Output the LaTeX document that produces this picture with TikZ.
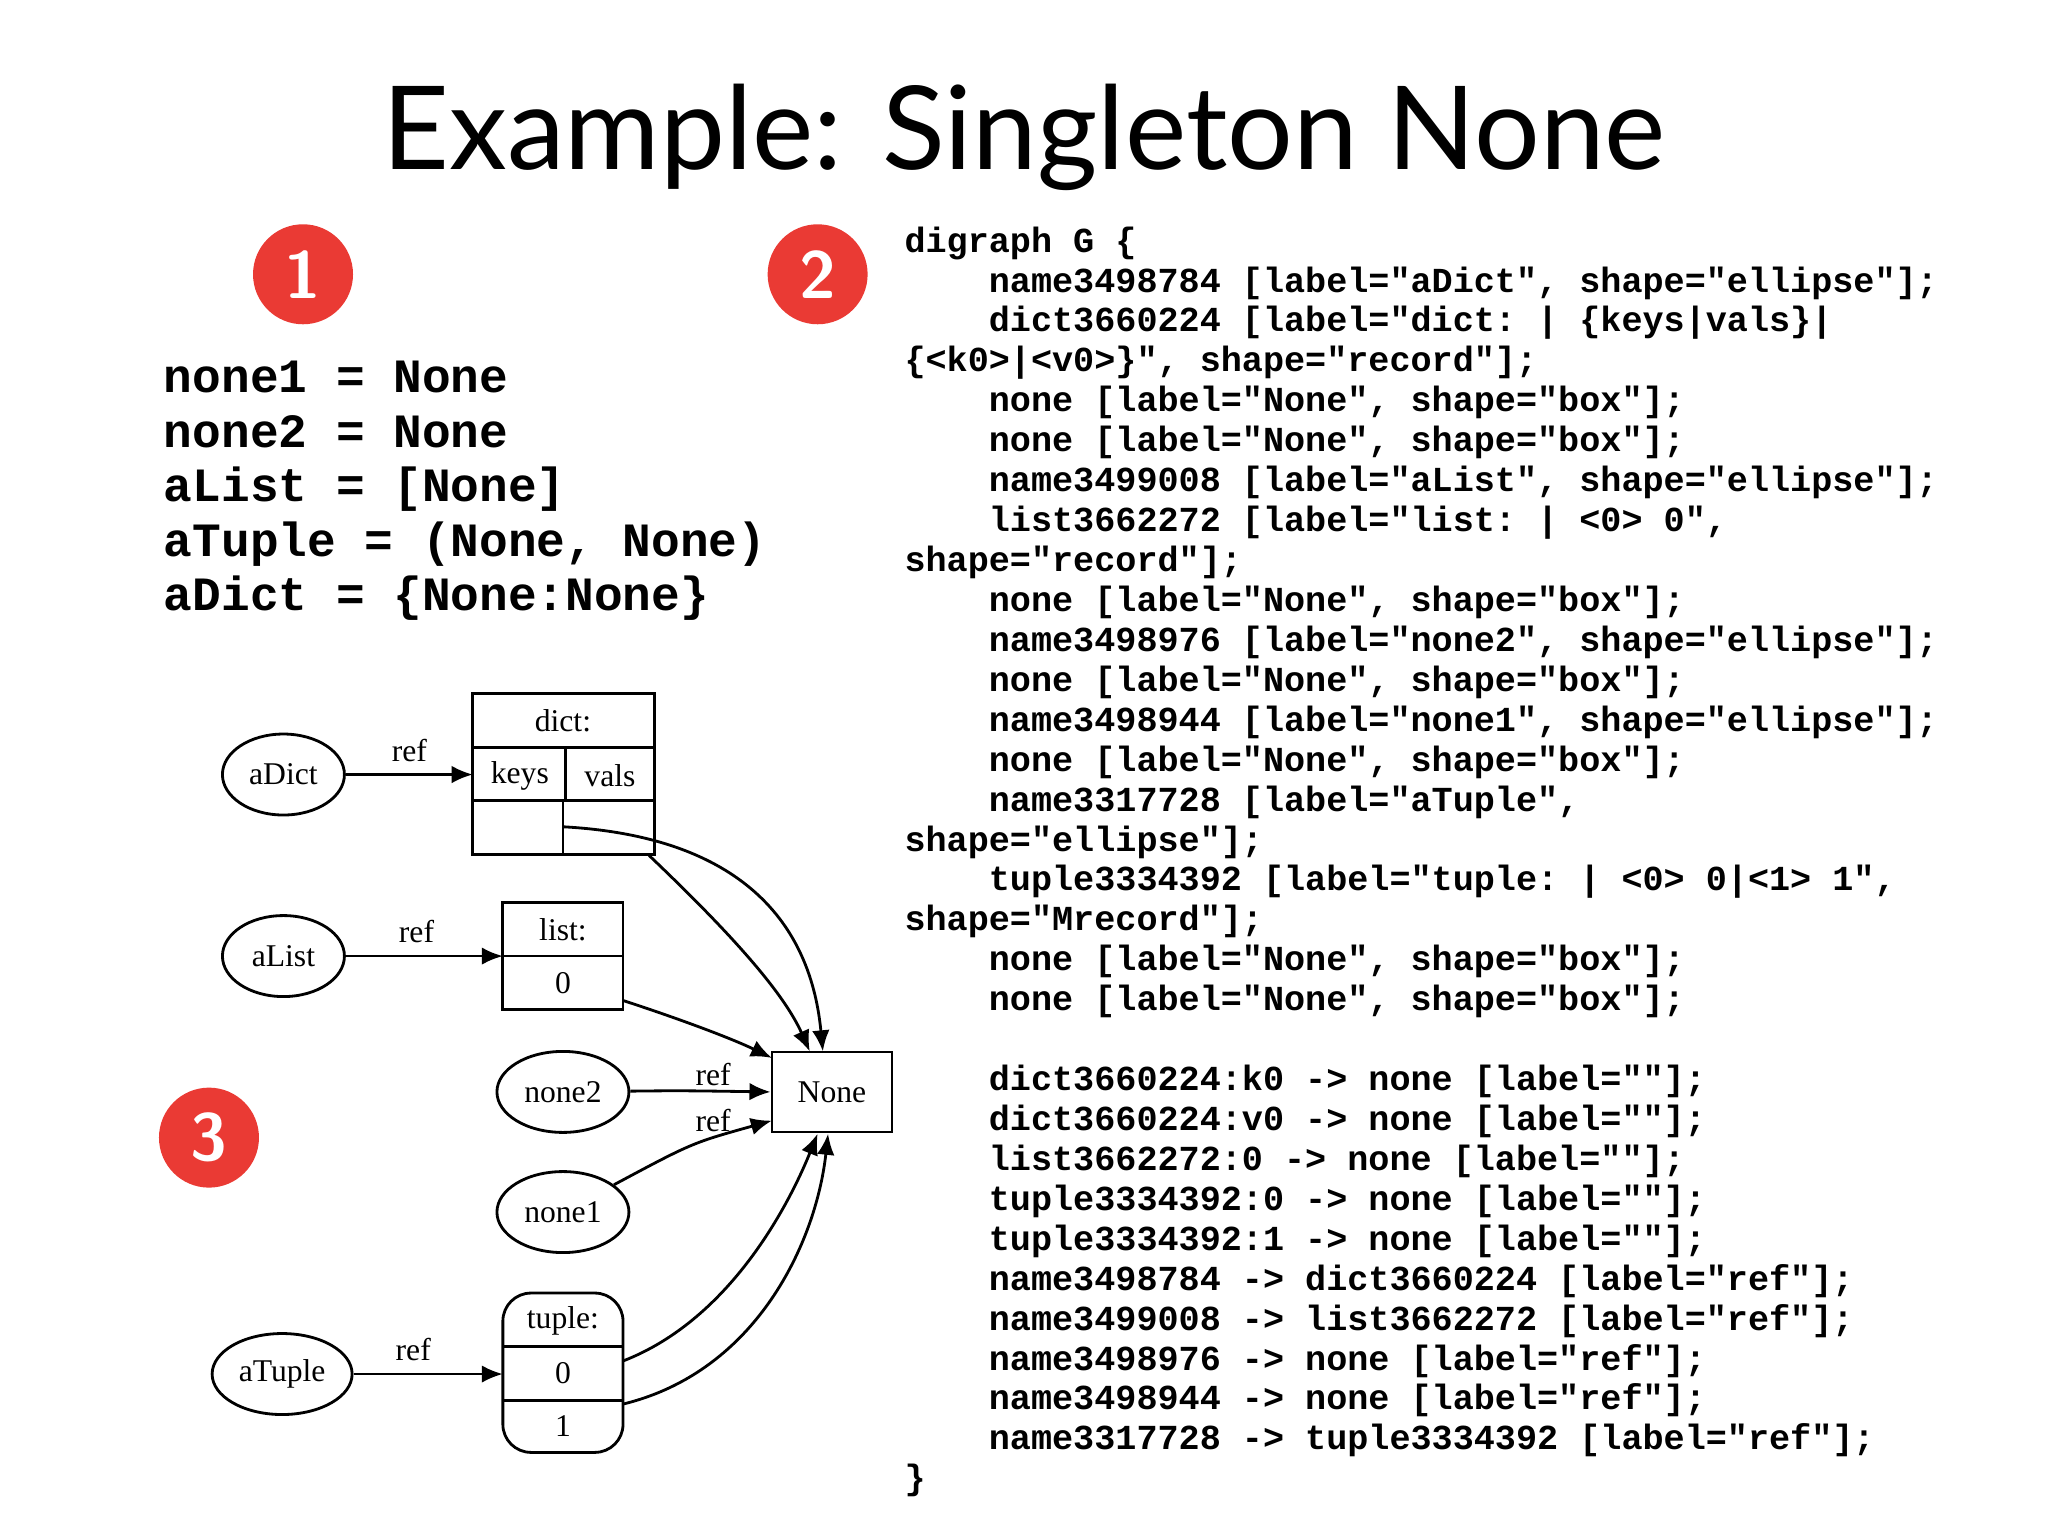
\documentclass[tikz,border=0pt]{standalone}
\usepackage{fontspec}
\setmainfont{Liberation Serif}
\setmonofont{Liberation Mono}
\newfontfamily\titlefont{Lato}
\usetikzlibrary{arrows.meta,shapes.geometric}
\definecolor{badgered}{RGB}{234,58,52}
\tikzset{
  px/.style={x=0.01306cm,y=-0.01306cm},
  badge/.style={circle,fill=badgered,minimum size=1.0cm,inner sep=0pt,text=white,font=\sffamily\bfseries\fontsize{19}{19}\selectfont},
  obj/.style={ellipse,draw,thick,inner sep=1pt,font=\fontsize{9}{9}\selectfont},
  cell/.style={draw,thick,font=\fontsize{9}{9}\selectfont},
  edge/.style={thick,-{Latex[length=6pt,width=5pt]}},
  reflabel/.style={font=\fontsize{9}{9}\selectfont}
}
\newcommand{\ind}{\hspace*{2.4em}}
\begin{document}
\begin{tikzpicture}[px]
\useasboundingbox (0,0) rectangle (1568,1176);

\node[font=\titlefont\fontsize{33}{33}\selectfont] (title) at (784,105) {Example: Singleton None};

\node[badge] (b1) at (232,210) {1};
\node[badge] (b2) at (626,210) {2};
\node[badge] (b3) at (160,871) {3};

\node[anchor=north west,align=left,inner sep=0pt,font=\ttfamily\bfseries\fontsize{13.6}{15.5}\selectfont] (pycode) at (125,276)
{none1 = None\\none2 = None\\aList = [None]\\aTuple = (None, None)\\aDict = \{None:None\}};

\node[anchor=north west,align=left,inner sep=0pt,font=\ttfamily\bfseries\fontsize{10}{11.36}\selectfont] (dotcode) at (692,173)
{digraph G \{\\
\ind name3498784 [label="aDict", shape="ellipse"];\\
\ind dict3660224 [label="dict: | \{keys|vals\}|\\
\{<k0>|<v0>\}", shape="record"];\\
\ind none [label="None", shape="box"];\\
\ind none [label="None", shape="box"];\\
\ind name3499008 [label="aList", shape="ellipse"];\\
\ind list3662272 [label="list: | <0> 0",\\
shape="record"];\\
\ind none [label="None", shape="box"];\\
\ind name3498976 [label="none2", shape="ellipse"];\\
\ind none [label="None", shape="box"];\\
\ind name3498944 [label="none1", shape="ellipse"];\\
\ind none [label="None", shape="box"];\\
\ind name3317728 [label="aTuple",\\
shape="ellipse"];\\
\ind tuple3334392 [label="tuple: | <0> 0|<1> 1",\\
shape="Mrecord"];\\
\ind none [label="None", shape="box"];\\
\ind none [label="None", shape="box"];\\
\mbox{}\\
\ind dict3660224:k0 -> none [label=""];\\
\ind dict3660224:v0 -> none [label=""];\\
\ind list3662272:0 -> none [label=""];\\
\ind tuple3334392:0 -> none [label=""];\\
\ind tuple3334392:1 -> none [label=""];\\
\ind name3498784 -> dict3660224 [label="ref"];\\
\ind name3499008 -> list3662272 [label="ref"];\\
\ind name3498976 -> none [label="ref"];\\
\ind name3498944 -> none [label="ref"];\\
\ind name3317728 -> tuple3334392 [label="ref"];\\
\}};

% graph objects
\node[obj,minimum width=1.22cm,minimum height=0.81cm] (adict) at (217,593) {aDict};
\node[obj,minimum width=1.22cm,minimum height=0.81cm] (alist) at (217,732) {aList};
\node[obj,minimum width=1.32cm,minimum height=0.81cm] (none2) at (431,836) {none2};
\node[obj,minimum width=1.32cm,minimum height=0.81cm] (none1) at (431,928) {none1};
\node[obj,minimum width=1.40cm,minimum height=0.81cm] (atuple) at (216,1052) {aTuple};

% dict record
\draw[thick] (362,531) rectangle (501,654);
\draw[thick] (362,572) -- (501,572) (362,613) -- (501,613) (433,572) -- (433,613) (431,613) -- (431,654);
\node[reflabel] (dicthead) at (431,552) {dict:};
\node[reflabel] (keys) at (398,594) {keys};
\node[reflabel] (vals) at (467,594) {vals};
\coordinate (dictin) at (362,593);
\coordinate (k0) at (431,633);
\coordinate (v0) at (497,655);

% list record
\draw[thick] (385,691) rectangle (477,773);
\draw[thick] (385,732) -- (477,732);
\node[reflabel] (listhead) at (431,712) {list:};
\node[reflabel] (lzero) at (431,753) {0};
\coordinate (listin) at (385,732);
\coordinate (l0) at (477,766);

% tuple record
\draw[thick,rounded corners=8] (385,990) rectangle (477,1112);
\draw[thick] (385,1031) -- (477,1031) (385,1072) -- (477,1072);
\node[reflabel] (tuplehead) at (431,1011) {tuple:};
\node[reflabel] (tzero) at (431,1051) {0};
\node[reflabel] (tone) at (431,1092) {1};
\coordinate (tuplein) at (385,1052);
\coordinate (t0) at (477,1042);
\coordinate (t1) at (477,1075);

% None box
\node[cell,minimum width=1.2cm,minimum height=0.8cm] (none) at (637,836) {None};

% connectors
\draw[edge] (adict) -- node[reflabel,above,pos=0.5] {ref} (dictin);
\draw[edge] (alist) -- node[reflabel,above,pos=0.45] {ref} (listin);
\draw[edge] (atuple) -- node[reflabel,above,pos=0.4] {ref} (tuplein);
\draw[edge] (none2) .. controls (520,835) .. (none.west);
\node[reflabel] (ref2) at (546,823) {ref};
\draw[edge] (none1) .. controls (530,875) .. (591,858);
\node[reflabel] (ref1) at (546,858) {ref};
\draw[edge] (k0) .. controls (560,640) and (620,700) .. (630,805);
\draw[edge] (v0) .. controls (560,715) and (600,760) .. (620,805);
\draw[edge] (l0) .. controls (520,780) and (560,795) .. (591,810);
\draw[edge] (t0) .. controls (560,1010) and (605,920) .. (626,868);
\draw[edge] (t1) .. controls (580,1050) and (625,950) .. (634,868);
\end{tikzpicture}
\end{document}
